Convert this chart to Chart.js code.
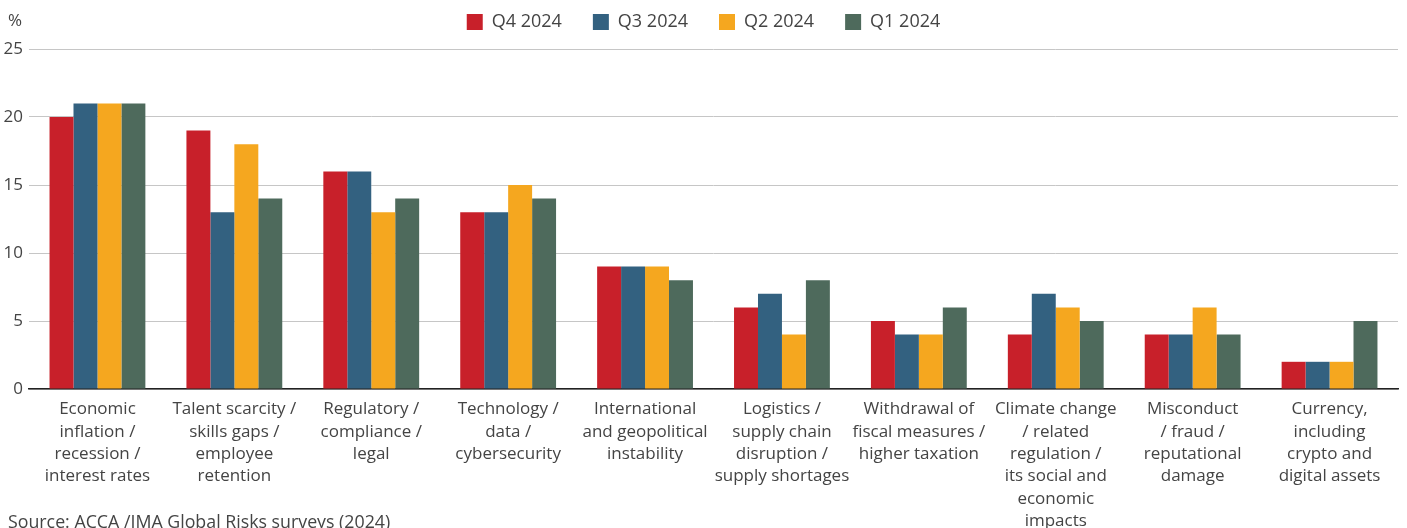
<!DOCTYPE html>
<html>
<head>
<meta charset="utf-8">
<script src="https://cdn.jsdelivr.net/npm/chart.js@4"></script>
<style>
  html, body { margin: 0; padding: 0; background: #fff; overflow: hidden; }
  #wrap { position: relative; width: 1407px; height: 528px; }
  #pct { position: absolute; left: 8px; top: 8px; font: 17px "Open Sans", sans-serif; color: #444; }
  #src { position: absolute; left: 8px; top: 509px; font: 17.8px "Open Sans", sans-serif; color: #444; white-space: nowrap; }
</style>
</head>
<body>
<div id="wrap">
  <canvas id="c" width="1407" height="528"></canvas>
  <div id="pct">%</div>
  <div id="src">Source: ACCA /IMA Global Risks surveys (2024)</div>
</div>
<script>
const categories = [
  ["Economic", "inflation /", "recession /", "interest rates"],
  ["Talent scarcity /", "skills gaps /", "employee", "retention"],
  ["Regulatory /", "compliance /", "legal"],
  ["Technology /", "data /", "cybersecurity"],
  ["International", "and geopolitical", "instability"],
  ["Logistics /", "supply chain", "disruption /", "supply shortages"],
  ["Withdrawal of", "fiscal measures /", "higher taxation"],
  ["Climate change", "/ related", "regulation /", "its social and", "economic", "impacts"],
  ["Misconduct", "/ fraud /", "reputational", "damage"],
  ["Currency,", "including", "crypto and", "digital assets"]
];
const seriesNames = ["Q4 2024", "Q3 2024", "Q2 2024", "Q1 2024"];
const q4_2024 = [20, 19, 16, 13, 9, 6, 5, 4, 4, 2];
const q3_2024 = [21, 13, 16, 13, 9, 7, 4, 7, 4, 2];
const q2_2024 = [21, 18, 13, 15, 9, 4, 4, 6, 6, 2];
const q1_2024 = [21, 14, 14, 14, 8, 8, 6, 5, 4, 5];
const yTicks = [0, 5, 10, 15, 20, 25];

const colors = ["#C8202A", "#336180", "#F5A71F", "#4E6A5C"];
const FONT = "'Open Sans', sans-serif";
const TXT = "#444444";

const legendPatch = {
  id: 'legendPatch',
  afterInit(chart) {
    const lg = chart.legend;
    if (lg) {
      const orig = lg.fit;
      lg.fit = function () {
        orig.call(this);
        this.height = 46;
        if (this.lineWidths && this.lineWidths.length) this.lineWidths[0] -= 9;
      };
    }
  }
};

new Chart(document.getElementById('c'), {
  type: 'bar',
  data: {
    labels: categories,
    datasets: [q4_2024, q3_2024, q2_2024, q1_2024].map((d, i) => ({
      label: seriesNames[i],
      data: d,
      backgroundColor: colors[i],
      borderWidth: 0,
      categoryPercentage: 0.7,
      barPercentage: 1.0
    }))
  },
  options: {
    responsive: false,
    animation: false,
    layout: { padding: { top: 3, right: 9, left: 0, bottom: 0 } },
    plugins: {
      tooltip: { enabled: false },
      legend: {
        position: 'top',
        align: 'center',
        labels: {
          boxWidth: 16,
          boxHeight: 16,
          padding: 10,
          color: TXT,
          font: { family: FONT, size: 18 },
          generateLabels(chart) {
            const items = Chart.defaults.plugins.legend.labels.generateLabels(chart);
            items.forEach((it, i) => { it.lineWidth = 0; if (i < items.length - 1) it.text += '\u2003\u2009'; });
            return items;
          }
        }
      }
    },
    scales: {
      x: {
        grid: { display: false, drawTicks: false },
        border: { display: true, color: '#222222', width: 1.5 },
        ticks: {
          autoSkip: false, maxRotation: 0, minRotation: 0,
          color: TXT, padding: 9,
          font: { family: FONT, size: 17, lineHeight: 1.32 }
        },
        afterFit(scale) { scale.height = 139; }
      },
      y: {
        min: 0, max: 25,
        afterBuildTicks(scale) { scale.ticks = yTicks.map(v => ({ value: v })); },
        grid: { color: '#c6c6c6', lineWidth: 1, drawTicks: false },
        border: { display: false },
        ticks: { color: TXT, padding: 6, font: { family: FONT, size: 17 } },
        afterFit(scale) { scale.width = 29; }
      }
    }
  },
  plugins: [legendPatch]
});
</script>
</body>
</html>
